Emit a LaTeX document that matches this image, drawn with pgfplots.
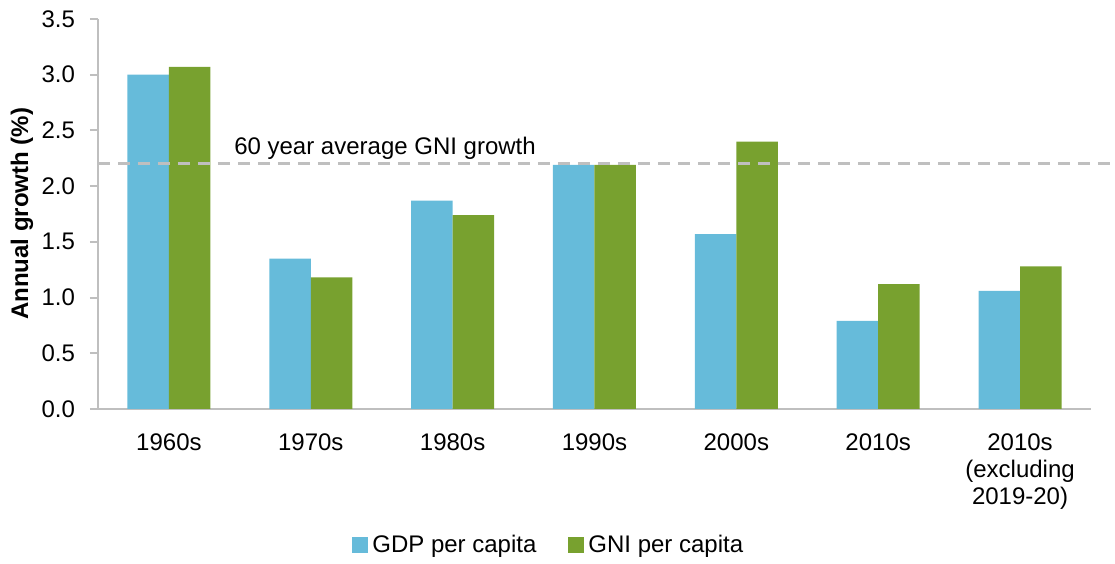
\documentclass[border=0pt]{standalone}
\usepackage{fontspec}
\setmainfont{Liberation Sans}
\usepackage{pgfplots}
\pgfplotsset{compat=1.18}
\definecolor{gdpblue}{RGB}{102,187,218}
\definecolor{gnigreen}{RGB}{120,161,47}
\definecolor{axgray}{RGB}{191,191,191}

\begin{document}
\begin{tikzpicture}
\begin{axis}[
    scale only axis,
    width=496.5pt,
    height=195pt,
    ybar=0pt,
    bar width=20.75pt,
    xmin=-0.5, xmax=6.5,
    ymin=0, ymax=3.5,
    xtick={0,...,6},
    xticklabels={1960s,1970s,1980s,1990s,2000s,2010s,{2010s\\(excluding\\2019-20)}},
    xticklabel style={align=center, yshift=-5pt, font=\fontsize{12}{13.5}\selectfont},
    ytick={0,0.5,1,1.5,2,2.5,3,3.5},
    yticklabel style={xshift=-4pt, /pgf/number format/.cd, fixed, fixed zerofill, precision=1},
    /pgf/number format/assume math mode=true,
    x tick style={draw=none},
    y tick style={axgray, line width=1pt},
    tick align=outside,
    major tick length=4pt,
    axis lines*=left,
    axis line style={-, axgray, line width=1pt},
    ylabel={\bfseries Annual growth (\%)},
    ylabel style={at={(axis description cs:-0.0765,0.5)}, anchor=center},
    font=\fontsize{12}{13.5}\selectfont,
    legend style={at={(0.455,-0.349)}, anchor=center, draw=none, legend columns=2,
        /tikz/every even column/.append style={column sep=14pt}},
    legend image code/.code={\fill[#1] (0pt,-4pt) rectangle (8pt,4pt);},
    clip=false,
]
\addplot[fill=gdpblue, draw=none] coordinates {
    (0,3.00) (1,1.35) (2,1.87) (3,2.19) (4,1.57) (5,0.79) (6,1.06)
};
\addplot[fill=gnigreen, draw=none] coordinates {
    (0,3.07) (1,1.18) (2,1.74) (3,2.19) (4,2.40) (5,1.12) (6,1.28)
};
\legend{GDP per capita, GNI per capita}
% 60 year average
\draw[axgray, line width=1.5pt, dash pattern=on 6pt off 4pt]
    (axis cs:-0.5,2.2) -- (axis cs:6.65,2.2);
\node[anchor=base west, inner sep=0pt] at (axis cs:0.458,2.28) {60 year average GNI growth};
\path (rel axis cs:-0.0987,-0.3846) rectangle (rel axis cs:1.0242,1.0487);
\end{axis}
\end{tikzpicture}
\end{document}
